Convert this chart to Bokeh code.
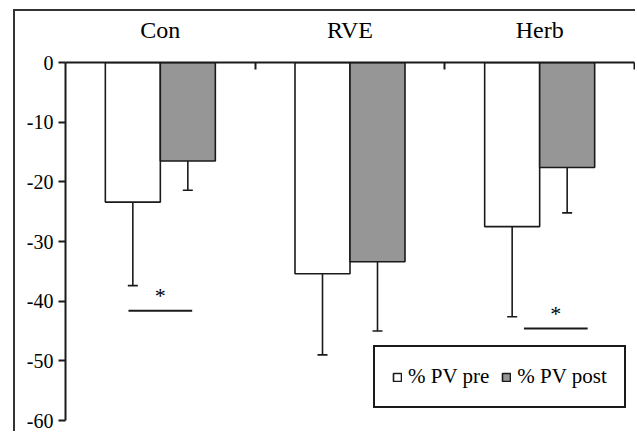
import numpy as np
from bokeh.plotting import figure
from bokeh.models import ColumnDataSource, Range1d, FixedTicker, Whisker, TeeHead
from bokeh.core.properties import value
from bokeh.embed import file_html
from bokeh.resources import INLINE

# ---- data ----
categories = ["Con", "RVE", "Herb"]
pv_pre = [-23.4, -35.4, -27.5]
pv_post = [-16.5, -33.4, -17.6]
pv_pre_sd = [14.0, 13.6, 15.1]
pv_post_sd = [4.9, 11.6, 7.6]
y_ticks = [0, -10, -20, -30, -40, -50, -60]
sig_cats = ["Con", "Herb"]
sig_y = [-41.6, -44.6]
sig_shift = [0.0, 0.085]

FONT = "Liberation Serif"
INK = "#1a1a1a"

xc = np.arange(len(categories)) + 0.5
off = 0.145
bw = 0.29

pre_src = ColumnDataSource(dict(x=xc - off, top=[0] * 3, val=pv_pre,
                                lower=np.array(pv_pre) - np.array(pv_pre_sd)))
post_src = ColumnDataSource(dict(x=xc + off, top=[0] * 3, val=pv_post,
                                 lower=np.array(pv_post) - np.array(pv_post_sd)))

p = figure(width=622, height=422, output_backend="svg", toolbar_location=None,
           x_range=Range1d(0, 3), y_range=Range1d(-60, 0),
           x_axis_location="above", y_axis_location="left",
           min_border_left=50, min_border_right=3, min_border_top=51,
           min_border_bottom=13)
p.styles = {"border-left": "2px solid #333", "border-top": "2px solid #333",
            "margin-left": "13px", "margin-top": "9px"}
p.outline_line_color = None
p.xgrid.visible = False
p.ygrid.visible = False
p.background_fill_color = "white"
p.border_fill_color = "white"

# bars
p.vbar(x="x", top="top", bottom="val", width=bw, source=pre_src,
       fill_color="white", line_color=INK, line_width=1.6,
       legend_label="% PV pre")
p.vbar(x="x", top="top", bottom="val", width=bw, source=post_src,
       fill_color="#969696", line_color=INK, line_width=1.6,
       legend_label="% PV post")

# error bars (downward only)
for src in (pre_src, post_src):
    w = Whisker(source=src, base="x", upper="val", lower="lower",
                upper_head=None,
                lower_head=TeeHead(size=10, line_color=INK, line_width=1.6),
                line_color=INK, line_width=1.6, level="glyph")
    p.add_layout(w)

# significance markers
sig_idx = np.array([categories.index(c) for c in sig_cats]) + 0.5 + np.array(sig_shift)
p.segment(x0=sig_idx - 0.168, x1=sig_idx + 0.168, y0=sig_y, y1=sig_y,
          line_color=INK, line_width=2)
p.text(x=sig_idx, y=np.array(sig_y) + 0.4, text=["*"] * len(sig_cats),
       text_font=value(FONT), text_font_size="22px", text_align="center",
       text_baseline="bottom", text_color="#000")

# top categorical-style axis
xa = p.xaxis[0]
xa.ticker = FixedTicker(ticks=list(xc), minor_ticks=[1, 2, 3])
xa.major_label_overrides = {float(x): c for x, c in zip(xc, categories)}
xa.major_tick_in = 0
xa.major_tick_out = 0
xa.minor_tick_in = 7
xa.minor_tick_out = 0
xa.minor_tick_line_width = 2
xa.minor_tick_line_color = INK
xa.axis_line_width = 2
xa.axis_line_color = INK
xa.major_label_text_font = FONT
xa.major_label_text_font_size = "24px"
xa.major_label_text_color = "#000"
xa.major_label_standoff = 20

ya = p.yaxis[0]
ya.ticker = FixedTicker(ticks=y_ticks)
ya.major_label_overrides = {t: str(t) for t in y_ticks}
ya.major_tick_in = 0
ya.major_tick_out = 7
ya.major_tick_line_width = 2
ya.major_tick_line_color = INK
ya.minor_tick_line_color = None
ya.axis_line_width = 2
ya.axis_line_color = INK
ya.major_label_text_font = FONT
ya.major_label_text_font_size = "20px"
ya.major_label_text_color = "#000"
ya.major_label_standoff = 5

lg = p.legend[0]
lg.orientation = "horizontal"
lg.location = (308, 12)
lg.margin = 0
lg.padding = 17
lg.spacing = 12
lg.glyph_width = 10
lg.glyph_height = 10
lg.label_height = 24
lg.label_standoff = 6
lg.label_text_font = FONT
lg.label_text_font_size = "21px"
lg.label_text_color = "#000"
lg.border_line_color = INK
lg.border_line_width = 2
lg.border_line_alpha = 1.0
lg.background_fill_alpha = 1.0

open("out.html", "w").write(file_html(p, INLINE))
